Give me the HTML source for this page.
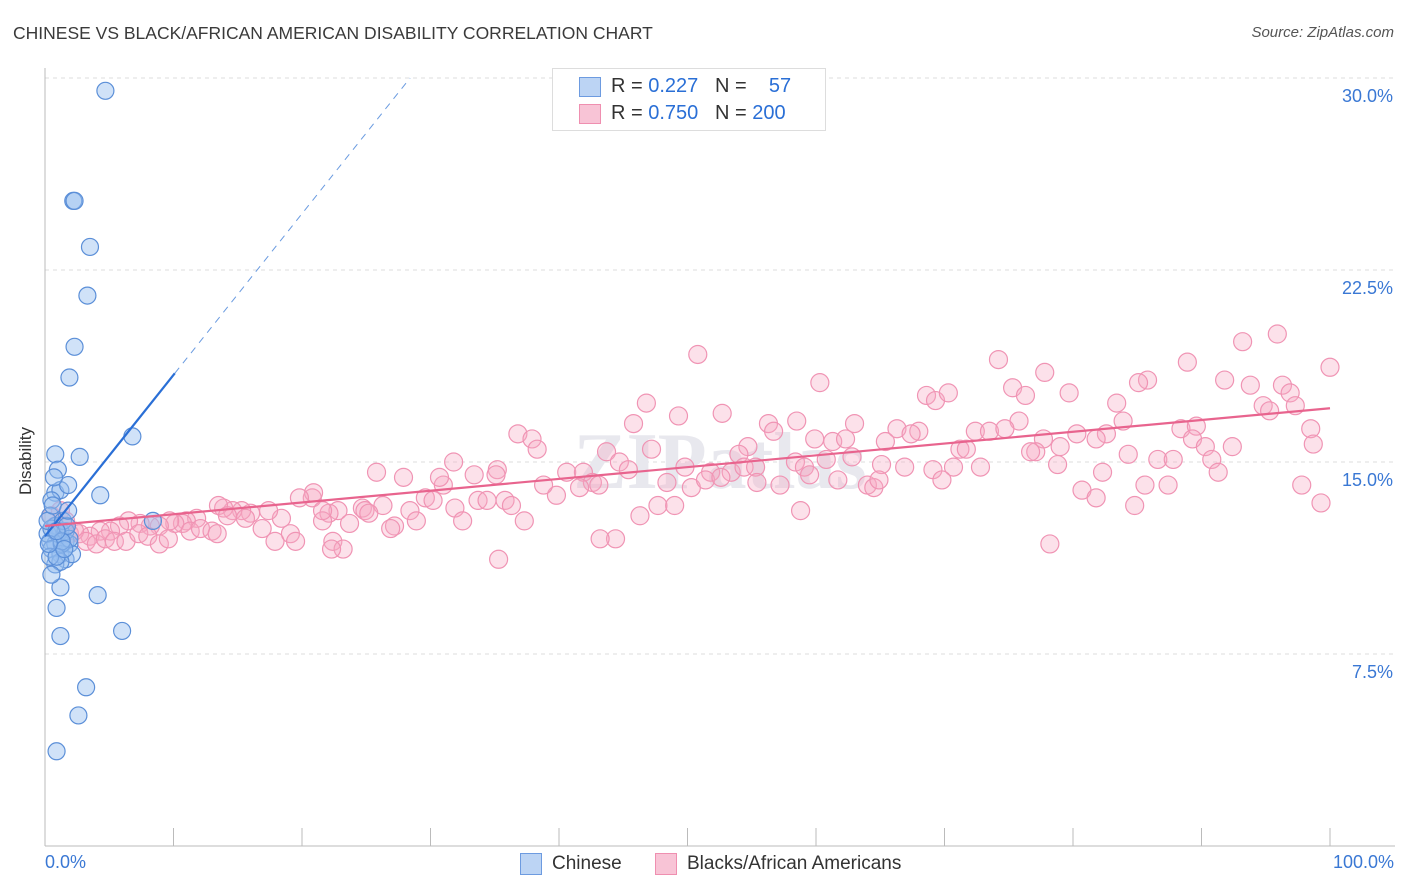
<!DOCTYPE html>
<html><head><meta charset="utf-8"><style>
body{margin:0;background:#fff;font-family:"Liberation Sans",sans-serif;}
#wrap{position:relative;width:1406px;height:892px;overflow:hidden;}
.t{position:absolute;white-space:nowrap;}
</style></head><body>
<div id="wrap">
<div class="t" style="left:13px;top:23px;font-size:17.5px;color:#3a3a3a;">CHINESE VS BLACK/AFRICAN AMERICAN DISABILITY CORRELATION CHART</div>
<div class="t" style="right:12px;top:24px;font-size:15px;color:#555;font-style:italic;">Source: ZipAtlas.com</div>
<svg id="svg" width="1406" height="892" style="position:absolute;left:0;top:0"></svg>
</div>
<script>
const blueX=[4.7,2.2,2.3,3.5,3.3,2.3,1.9,6.8,2.7,4.3,0.8,1.0,0.8,1.2,1.8,8.4,0.5,0.4,0.8,1.2,0.4,0.8,1.6,1.9,0.2,0.5,1.2,1.6,2.1,0.8,1.2,0.4,1.3,1.0,1.6,1.9,0.5,0.2,1.2,4.1,0.9,6.0,1.2,3.2,2.6,0.9,1.4,1.7,0.6,1.3,0.9,1.5,1.8,0.3,0.9,0.5,0.7];
const blueY=[29.5,25.2,25.2,23.4,21.5,19.5,18.3,16.0,15.2,13.7,15.3,14.7,13.8,13.9,14.1,12.7,13.5,12.9,12.5,12.3,11.9,11.8,11.9,11.8,12.2,11.6,11.4,11.2,11.4,11.0,11.1,11.3,11.8,12.2,12.3,12.0,12.4,12.7,10.1,9.8,9.3,8.4,8.2,6.2,5.1,3.7,12.7,12.5,13.3,11.9,11.3,11.6,13.1,11.8,12.3,10.6,14.4];
const pinkX=[50.8,95.9,93.2,100.0,88.9,74.2,77.8,60.3,85.8,85.1,79.7,75.3,76.3,68.6,69.3,70.3,91.8,93.8,96.3,96.9,94.8,95.3,97.3,98.5,46.8,49.3,52.7,58.5,56.3,56.7,45.8,83.4,83.9,75.8,66.3,68.0,67.4,63.0,72.4,73.5,74.7,77.7,80.3,82.6,88.4,89.6,89.3,92.4,98.7,36.8,37.9,38.3,54.7,54.0,61.3,62.3,59.9,65.4,71.2,71.7,77.1,79.0,81.8,90.3,47.2,43.7,44.7,45.4,49.8,51.8,53.4,54.4,55.3,58.4,59.1,60.8,62.8,65.1,66.9,69.1,70.7,72.8,76.7,78.8,84.3,86.6,87.8,90.8,91.3,31.8,35.2,33.4,35.1,25.8,27.9,31.0,30.7,40.6,41.9,42.6,41.6,43.1,39.8,38.8,48.4,50.3,51.4,52.6,55.4,57.2,59.5,61.7,64.0,64.5,64.9,69.8,82.3,85.6,87.4,80.7,81.8,84.8,97.8,99.3,20.8,20.9,19.8,22.8,24.7,24.9,26.3,28.4,29.6,30.2,31.9,33.7,34.4,35.8,36.3,37.3,32.5,28.9,27.2,26.9,25.2,23.7,22.1,21.6,21.6,18.4,17.4,16.9,16.0,15.3,14.6,13.9,13.5,15.6,14.2,11.8,11.0,10.7,10.1,9.7,8.9,8.2,7.4,6.5,5.8,5.1,4.3,3.5,2.7,1.9,1.5,2.3,3.2,4.0,4.7,5.4,6.3,7.3,8.0,8.9,9.6,11.3,12.1,13.0,13.4,17.9,19.1,19.5,22.4,23.2,22.3,46.3,47.7,49.0,44.4,43.2,58.8,78.2,35.3,1.2,1.6,0.8,0.5];
const pinkY=[19.2,20.0,19.7,18.7,18.9,19.0,18.5,18.1,18.2,18.1,17.7,17.9,17.6,17.6,17.4,17.7,18.2,18.0,18.0,17.7,17.2,17.0,17.2,16.3,17.3,16.8,16.9,16.6,16.5,16.2,16.5,17.3,16.6,16.6,16.3,16.2,16.1,16.5,16.2,16.2,16.3,15.9,16.1,16.1,16.3,16.4,15.9,15.6,15.7,16.1,15.9,15.5,15.6,15.3,15.8,15.9,15.9,15.8,15.5,15.5,15.4,15.6,15.9,15.6,15.5,15.4,15.0,14.7,14.8,14.6,14.6,14.8,14.8,15.0,14.8,15.1,15.2,14.9,14.8,14.7,14.8,14.8,15.4,14.9,15.3,15.1,15.1,15.1,14.6,15.0,14.7,14.5,14.5,14.6,14.4,14.1,14.4,14.6,14.6,14.2,14.0,14.1,13.7,14.1,14.2,14.0,14.3,14.4,14.2,14.1,14.5,14.3,14.1,14.0,14.3,14.3,14.6,14.1,14.1,13.9,13.6,13.3,14.1,13.4,13.6,13.8,13.6,13.1,13.2,13.1,13.3,13.1,13.6,13.5,13.2,13.5,13.5,13.5,13.3,12.7,12.7,12.7,12.5,12.4,13.0,12.6,13.0,12.7,13.1,12.8,13.1,12.4,13.0,13.1,13.1,13.2,13.3,12.8,12.9,12.8,12.7,12.6,12.6,12.7,12.5,12.5,12.6,12.7,12.5,12.3,12.3,12.1,12.2,12.2,12.5,12.3,11.9,11.8,12.0,11.9,11.9,12.2,12.1,11.8,12.0,12.3,12.4,12.3,12.2,11.9,12.2,11.9,11.9,11.6,11.6,12.9,13.3,13.3,12.0,12.0,13.1,11.8,11.2,13.1,12.7,12.5,12.9];
const blueFit=[12.1,0.63];
const pinkFit=[12.5,0.046];
const yTicks=[7.5,15.0,22.5,30.0];
const yTickLabels=["7.5%","15.0%","22.5%","30.0%"];
const xTicks=[10,20,30,40,50,60,70,80,90,100];

const X0=45,X1=1330,Y0=846;
const sx=v=>X0+(X1-X0)*v/100;
const sy=v=>Y0-v*25.6;
const svg=document.getElementById('svg');
const NS='http://www.w3.org/2000/svg';
function mk(tag,at){const e=document.createElementNS(NS,tag);for(const k in at)e.setAttribute(k,at[k]);svg.appendChild(e);return e;}

yTicks.forEach((v,i)=>{
 const l=mk('line',{x1:X0,x2:1395,y1:sy(v),y2:sy(v),stroke:'#ddd','stroke-dasharray':'4,4'});
 
 
 const t=mk('text',{x:1393,y:sy(v)+24,'text-anchor':'end','font-size':18,fill:'#3a78d4','font-family':'Liberation Sans'});
 t.textContent=yTickLabels[i];
 
 
});
const ax=mk('line',{x1:X0,x2:X0,y1:68,y2:Y0,stroke:'#bbb'});


const bx=mk('line',{x1:X0,x2:1395,y1:Y0,y2:Y0,stroke:'#bbb'});


xTicks.forEach(v=>{
 const l=mk('line',{x1:sx(v),x2:sx(v),y1:828,y2:Y0,stroke:'#bbb'});
 
 
});
const wm=mk('text',{x:720,y:488,'text-anchor':'middle','font-size':80,fill:'#e8e8ee','font-family':'Liberation Serif','font-weight':'bold'});
wm.textContent='ZIPatlas';



pinkX.forEach((x,i)=>{
 const c=mk('circle',{cx:sx(x),cy:sy(pinkY[i]),r:9,fill:'rgba(246,170,196,0.35)',stroke:'#f094b4','stroke-width':1.2});
 
 
});
blueX.forEach((x,i)=>{
 const c=mk('circle',{cx:sx(x),cy:sy(blueY[i]),r:8.5,fill:'rgba(150,190,240,0.45)',stroke:'#5b8fd8','stroke-width':1.2});
 
 
});
const xEnd=10.1, xDash=(30-blueFit[0])/blueFit[1];
const bl=mk('line',{x1:sx(0),y1:sy(blueFit[0]),x2:sx(xEnd),y2:sy(blueFit[0]+blueFit[1]*xEnd),stroke:'#2a6fd6','stroke-width':2.2});


const bd=mk('line',{x1:sx(xEnd),y1:sy(blueFit[0]+blueFit[1]*xEnd),x2:sx(xDash),y2:sy(30),stroke:'#6a9be0','stroke-width':1,'stroke-dasharray':'7,6'});


const pl=mk('line',{x1:sx(0),y1:sy(pinkFit[0]),x2:sx(100),y2:sy(pinkFit[0]+pinkFit[1]*100),stroke:'#e8648e','stroke-width':2.2});


</script>
<div class="t" style="left:16px;top:495px;transform:rotate(-90deg);transform-origin:0 0;font-size:17px;color:#333;">Disability</div>
<div class="t" style="left:45px;top:852px;font-size:18px;color:#3a78d4;">0.0%</div>
<div class="t" style="right:12px;top:852px;font-size:18px;color:#3a78d4;">100.0%</div>
<div style="position:absolute;left:552px;top:68px;width:272px;height:61px;border:1px solid #ddd;background:#fff;font-size:20px;">
 <div style="position:absolute;left:26px;top:8px;width:20px;height:18px;background:#bcd4f4;border:1px solid #6d9be0;"></div>
 <div class="t" style="left:58px;top:6px;color:#333;">R = <span style="color:#2a6fd6">0.227</span>&nbsp;&nbsp;&nbsp;N = &nbsp;&nbsp;&nbsp;<span style="color:#2a6fd6">57</span></div>
 <div style="position:absolute;left:26px;top:35px;width:20px;height:18px;background:#f8c4d6;border:1px solid #ef8fb0;"></div>
 <div class="t" style="left:58px;top:33px;color:#333;">R = <span style="color:#2a6fd6">0.750</span>&nbsp;&nbsp;&nbsp;N = <span style="color:#2a6fd6">200</span></div>
</div>
<div style="position:absolute;left:520px;top:853px;width:20px;height:20px;background:#bcd4f4;border:1px solid #6d9be0;"></div>
<div class="t" style="left:552px;top:853px;font-size:19px;color:#333;">Chinese</div>
<div style="position:absolute;left:655px;top:853px;width:20px;height:20px;background:#f8c4d6;border:1px solid #ef8fb0;"></div>
<div class="t" style="left:687px;top:853px;font-size:19px;color:#333;">Blacks/African Americans</div>
</body></html>
